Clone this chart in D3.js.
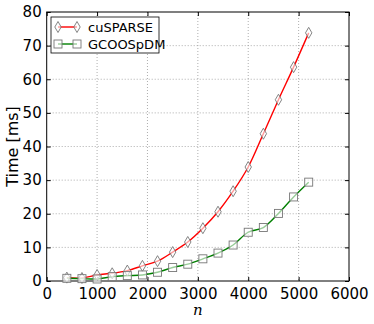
<!DOCTYPE html>
<html><head><meta charset="utf-8">
<script src="https://cdn.jsdelivr.net/npm/d3@7"></script>
<style>body{margin:0;background:#fff}svg{display:block}</style>
</head><body>
<svg id="c" width="374" height="324"></svg>
<script>
const nValues = [400,700,1000,1300,1600,1900,2200,2500,2800,3100,3400,3700,4000,4300,4600,4900,5200];
const cuSPARSE = [1.0,0.9,1.8,2.3,3.1,4.5,5.9,8.6,11.6,15.7,20.6,26.7,33.9,43.8,53.9,63.6,73.8];
const gcoo = [0.8,0.7,0.6,1.3,1.6,1.8,2.6,4.0,5.0,6.6,8.3,10.7,14.5,15.9,20.1,25.0,29.4];
const xTicks = [0,1000,2000,3000,4000,5000,6000];
const yTicks = [0,10,20,30,40,50,60,70,80];
const seriesNames = ["cuSPARSE","GCOOSpDM"];

const svg = d3.select("#c");
const L=46.7, R=349, T=12, B=281;
const x = d3.scaleLinear().domain([0,6000]).range([L,R]);
const y = d3.scaleLinear().domain([0,80]).range([B,T]);
const font = "'DejaVu Sans', sans-serif";

// grid
const g = svg.append("g");
xTicks.forEach(t=>{ if(t>0&&t<6000) g.append("line").attr("x1",x(t)).attr("x2",x(t)).attr("y1",T).attr("y2",B).attr("stroke","#999").attr("stroke-width",0.8).attr("stroke-dasharray","1,2"); });
yTicks.forEach(t=>{ if(t>0&&t<80) g.append("line").attr("x1",L).attr("x2",R).attr("y1",y(t)).attr("y2",y(t)).attr("stroke","#999").attr("stroke-width",0.8).attr("stroke-dasharray","1,2"); });

// axes
const fmt = d3.format("d");
svg.append("g").attr("transform",`translate(0,${B})`).call(d3.axisBottom(x).tickValues(xTicks).tickFormat(fmt).tickSizeInner(-4).tickSizeOuter(0).tickPadding(7));
svg.append("g").attr("transform",`translate(${L},0)`).call(d3.axisLeft(y).tickValues(yTicks).tickFormat(fmt).tickSizeInner(-4).tickSizeOuter(0).tickPadding(5));
svg.append("g").attr("transform",`translate(0,${T})`).call(d3.axisTop(x).tickValues(xTicks).tickSizeInner(-4).tickSizeOuter(0).tickFormat(""));
svg.append("g").attr("transform",`translate(${R},0)`).call(d3.axisRight(y).tickValues(yTicks).tickSizeInner(-4).tickSizeOuter(0).tickFormat(""));
svg.selectAll(".domain").remove();
svg.selectAll(".tick line").attr("stroke","#000");
svg.selectAll(".tick text").attr("font-family",font).attr("font-size",15).attr("fill","#000");
svg.append("rect").attr("x",L).attr("y",T).attr("width",R-L).attr("height",B-T).attr("fill","none").attr("stroke","#000").attr("stroke-width",1);

// lines
const line = d3.line().x((d,i)=>x(nValues[i])).y(d=>y(d)).curve(d3.curveCatmullRom);
svg.append("path").datum(cuSPARSE).attr("d",line).attr("fill","none").attr("stroke","#ff0000").attr("stroke-width",1.4);
svg.append("path").datum(gcoo).attr("d",line).attr("fill","none").attr("stroke","#008000").attr("stroke-width",1.4);

function diamond(sel,cx,cy){ sel.append("path").attr("d",`M${cx},${cy-5.5}L${cx+3.2},${cy}L${cx},${cy+5.5}L${cx-3.2},${cy}Z`).attr("fill","#fff").attr("fill-opacity",0.6).attr("stroke","#777").attr("stroke-width",0.9); }
function square(sel,cx,cy){ sel.append("rect").attr("x",cx-4).attr("y",cy-4).attr("width",8).attr("height",8).attr("fill","#fff").attr("fill-opacity",0.6).attr("stroke","#777").attr("stroke-width",0.9); }
const mk = svg.append("g");
cuSPARSE.forEach((v,i)=>diamond(mk,x(nValues[i]),y(v)));
gcoo.forEach((v,i)=>square(mk,x(nValues[i]),y(v)));

// legend
const lg = svg.append("g");
lg.append("rect").attr("x",51).attr("y",17).attr("width",108).attr("height",36).attr("fill","#fff").attr("stroke","#000").attr("stroke-width",0.8);
[["#ff0000",27,diamond],["#008000",44,square]].forEach(([c,yy,f],i)=>{
  lg.append("line").attr("x1",58).attr("x2",77).attr("y1",yy).attr("y2",yy).attr("stroke",c).attr("stroke-width",1.4);
  f(lg,58,yy); f(lg,77,yy);
  lg.append("text").attr("x",88).attr("y",yy+4.5).attr("font-family",font).attr("font-size",13).text(seriesNames[i]);
});

// labels
svg.append("text").attr("transform",`translate(18,${(T+B)/2}) rotate(-90)`).attr("text-anchor","middle").attr("font-family",font).attr("font-size",16).text("Time [ms]");
svg.append("text").attr("x",(L+R)/2).attr("y",315).attr("text-anchor","middle").attr("font-family","'DejaVu Serif', serif").attr("font-style","italic").attr("font-size",15).text("n");
</script>
</body></html>
